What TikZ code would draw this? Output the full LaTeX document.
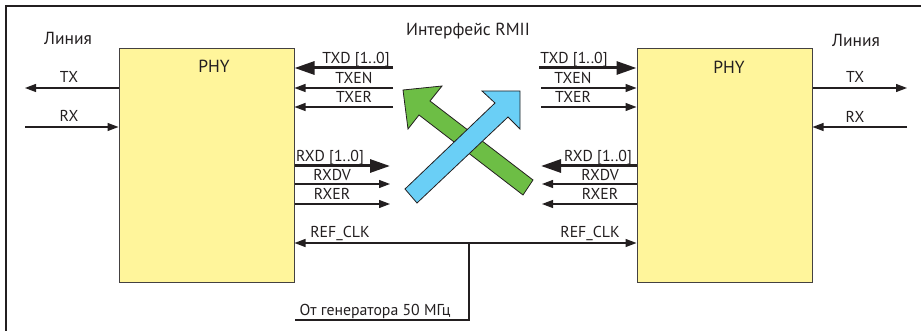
\documentclass[tikz,border=0pt]{standalone}
\usepackage{fontspec}
\setmainfont{PT Sans}
\usetikzlibrary{arrows.meta}
\definecolor{phyfill}{HTML}{FFF59B}
\definecolor{grn}{HTML}{6DBE45}
\definecolor{blu}{HTML}{6ACFF6}
\definecolor{ink}{HTML}{231F20}
\begin{document}
\begin{tikzpicture}[x=1pt,y=-1pt,
  lbl/.style={font=\fontsize{15.8}{16}\selectfont, inner sep=0pt, text=ink, anchor=base},
  big/.style={font=\fontsize{17.5}{18}\selectfont, inner sep=0pt, text=ink, anchor=base},
  sig/.style={draw=ink, line width=1.2pt, -{Triangle[length=11pt,width=8pt]}},
  bus/.style={draw=ink, line width=3pt, -{Triangle[length=20pt,width=13pt]}},
  wire/.style={draw=ink, line width=1.2pt},
  phy/.style={draw=ink!85, fill=phyfill, line width=1pt, minimum width=175pt, minimum height=233pt, inner sep=0pt},
  bigarrow/.style={draw=ink, line width=0.8pt, line join=miter},
]
\useasboundingbox (0,0) rectangle (921,331);
% frame
\draw[ink, line width=1.5pt] (6,331) -- (6,6) -- (921,6);

% PHY boxes
\node[phy] (phyL) at (206.5,165.5) {};
\node[phy] (phyR) at (724.5,165.5) {};
\node[big] (phyLlbl) at (214,73) {PHY};
\node[big] (phyRlbl) at (729,74) {PHY};

% titles
\node[big] (lineL) at (68,45) {Линия};
\node[big] (lineR) at (856,47) {Линия};
\node[big] (rmii) at (468,36) {Интерфейс RMII};

% line side, left
\coordinate (txL) at (25,88);
\coordinate (rxL) at (25,127);
\draw[sig] (phyL.west |- txL) -- (txL);
\draw[sig] (rxL) -- (phyL.west |- rxL);
\node[lbl] (txLlbl) at (69,82.5) {TX};
\node[lbl] (rxLlbl) at (69,121.5) {RX};

% line side, right
\coordinate (txR) at (907,88);
\coordinate (rxR) at (907,127);
\draw[sig] (phyR.east |- txR) -- (txR);
\draw[sig] (rxR) -- (phyR.east |- rxR);
\node[lbl] (txRlbl) at (855,83) {TX};
\node[lbl] (rxRlbl) at (855,123) {RX};

% RMII, left PHY
\coordinate (tdL) at (393,68);
\coordinate (teL) at (393,88);
\coordinate (trL) at (393,107);
\coordinate (rdL) at (390,166);
\coordinate (rvL) at (390,184);
\coordinate (reL) at (390,204);
\draw[bus] (tdL) -- (phyL.east |- tdL);
\draw[sig] (teL) -- (phyL.east |- teL);
\draw[sig] (trL) -- (phyL.east |- trL);
\draw[bus] (phyL.east |- rdL) -- (rdL);
\draw[sig] (phyL.east |- rvL) -- (rvL);
\draw[sig] (phyL.east |- reL) -- (reL);
\node[lbl] (tdLlbl) at (356,64) {TXD [1..0]};
\node[lbl] (teLlbl) at (354,84) {TXEN};
\node[lbl] (trLlbl) at (354,103) {TXER};
\node[lbl] (rdLlbl) at (330,162) {RXD [1..0]};
\node[lbl] (rvLlbl) at (332,180.5) {RXDV};
\node[lbl] (reLlbl) at (332,200) {RXER};

% RMII, right PHY
\coordinate (tdR) at (539,68);
\coordinate (teR) at (541,88);
\coordinate (trR) at (541,107);
\coordinate (rdR) at (541,166);
\coordinate (rvR) at (542,184);
\coordinate (reR) at (542,204);
\draw[bus] (tdR) -- (phyR.west |- tdR);
\draw[sig] (teR) -- (phyR.west |- teR);
\draw[sig] (trR) -- (phyR.west |- trR);
\draw[bus] (phyR.west |- rdR) -- (rdR);
\draw[sig] (phyR.west |- rvR) -- (rvR);
\draw[sig] (phyR.west |- reR) -- (reR);
\node[lbl] (tdRlbl) at (574,64) {TXD [1..0]};
\node[lbl] (teRlbl) at (573,84) {TXEN};
\node[lbl] (trRlbl) at (573,103) {TXER};
\node[lbl] (rdRlbl) at (598,162) {RXD [1..0]};
\node[lbl] (rvRlbl) at (600,180.5) {RXDV};
\node[lbl] (reRlbl) at (600,200) {RXER};

% REF_CLK
\coordinate (jn) at (469,243);
\coordinate (gen) at (295,320);
\draw[sig] (jn) -- (phyL.east |- jn);
\draw[sig] (jn) -- (phyR.west |- jn);
\draw[wire] (jn) -- (jn |- gen) -- (gen);
\node[lbl] (clkLlbl) at (340,237) {REF\_CLK};
\node[lbl] (clkRlbl) at (590,237) {REF\_CLK};
\node[lbl] (genlbl) at (375,315.5) {От генератора 50 МГц};

% crossing arrows
\draw[bigarrow, fill=grn] (403,90) -- (442,86) -- (430,101) -- (533,180) -- (523,195) -- (419,115) -- (408,129) -- cycle;
\draw[bigarrow, fill=blu] (520,91) -- (482,91) -- (495,103) -- (405,189) -- (417,203) -- (508,117) -- (520,129) -- cycle;
\end{tikzpicture}
\end{document}
